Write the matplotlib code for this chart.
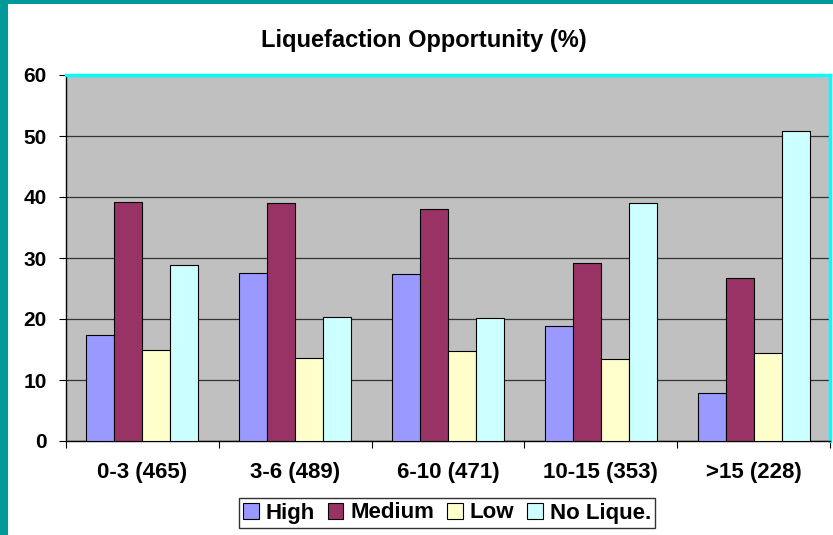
import matplotlib
matplotlib.use("Agg")
import matplotlib.pyplot as plt
import numpy as np
from matplotlib.patches import Rectangle

categories = ["0-3 (465)", "3-6 (489)", "6-10 (471)", "10-15 (353)", ">15 (228)"]
series_names = ["High", "Medium", "Low", "No Lique."]
high = [17.3, 27.5, 27.3, 18.9, 7.9]
medium = [39.1, 39.0, 38.0, 29.1, 26.8]
low = [15.0, 13.6, 14.8, 13.5, 14.5]
no_lique = [28.8, 20.4, 20.2, 39.0, 50.8]
colors = ["#9999FF", "#993366", "#FFFFCC", "#CCFFFF"]

plt.rcParams['font.family'] = ['Liberation Sans', 'DejaVu Sans']

fig = plt.figure(figsize=(8.33, 5.35), dpi=100)
fig.patch.set_facecolor("white")
# teal frame (top and left)
fig.patches.append(Rectangle((0, 1 - 4/535), 1, 4/535, transform=fig.transFigure,
                             facecolor="#009999", edgecolor="none", zorder=0))
fig.patches.append(Rectangle((0, 0), 8/833, 1, transform=fig.transFigure,
                             facecolor="#009999", edgecolor="none", zorder=0))

ax = fig.add_axes([66/833, 1 - 441/535, (830 - 66)/833, (441 - 75)/535])
ax.set_facecolor("#C0C0C0")

x = np.arange(len(categories))
w = 0.183
data = [high, medium, low, no_lique]
for i, (vals, c, name) in enumerate(zip(data, colors, series_names)):
    ax.bar(x + (i - 1.5) * w, vals, width=w, color=c, edgecolor="black",
           linewidth=0.8, label=name, zorder=3)

ax.set_xlim(-0.5, len(categories) - 0.5)
ax.set_ylim(0, 60)
ax.set_yticks(np.arange(0, 61, 10))
ax.yaxis.grid(True, color="#333333", linewidth=0.9, zorder=1)
ax.set_axisbelow(True)
ax.set_xticks(x)
ax.set_xticklabels(categories, fontsize=16, fontweight="bold")
ax.set_xticks(np.arange(-0.5, len(categories)), minor=True)
ax.tick_params(axis="x", which="major", length=0, pad=15)
ax.tick_params(axis="x", which="minor", length=5, color="black", width=0.8)
ax.tick_params(axis="y", length=5, width=0.8, pad=9)
for lab in ax.get_yticklabels():
    lab.set_fontsize(15)
    lab.set_fontweight("bold")

for s in ["top", "right"]:
    ax.spines[s].set_color("#00FFFF")
    ax.spines[s].set_linewidth(2.5)
ax.spines["left"].set_color("black")
ax.spines["left"].set_linewidth(1.0)
ax.spines["bottom"].set_color("black")
ax.spines["bottom"].set_linewidth(1.0)

fig.text(424/833, 1 - 40/535, "Liquefaction Opportunity (%)",
         ha="center", va="center", fontsize=17, fontweight="bold")

leg = fig.legend(loc="center", bbox_to_anchor=(447/833, 1 - 513/535), ncol=4,
                 frameon=True, fancybox=False, edgecolor="black", shadow=False,
                 prop={"size": 16, "weight": "bold"}, handlelength=0.7,
                 handleheight=0.7, handletextpad=0.3, columnspacing=0.6,
                 borderpad=0.2)
leg.get_frame().set_linewidth(1.0)

fig.savefig("out.png", dpi=100, facecolor=fig.get_facecolor())
